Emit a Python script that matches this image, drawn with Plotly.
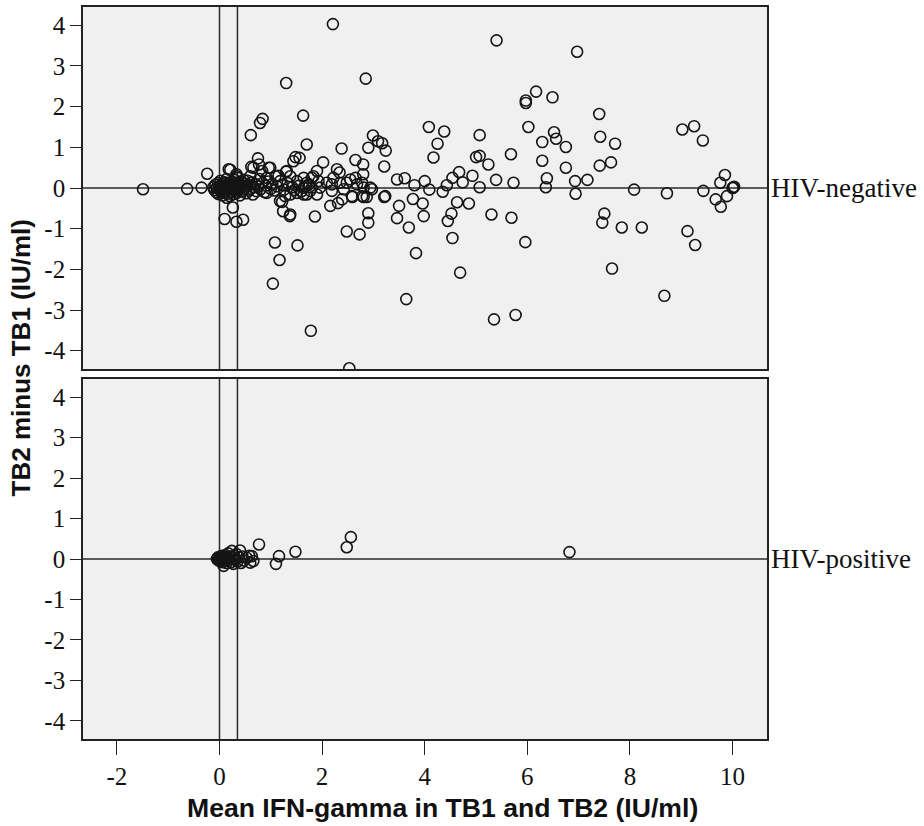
import plotly.graph_objects as go

# ---------------- data ----------------
# HIV-negative: mean IFN-gamma (x) vs TB2 minus TB1 (y)
neg_x = [
    -1.49, -0.63, -0.35, -0.24, 0.21, 0.33, 0.34, 0.18,
    1.30, 0.84, 0.79, 0.61, 0.75, 0.62, 0.96, 0.77, 0.66, 0.83, 0.99,
    1.63, 1.70, 1.30, 1.44, 1.48, 1.56,
    2.21, 5.40, 6.97, 2.85, 6.17, 6.49, 5.97, 5.97, 7.40, 6.02, 4.08, 4.38,
    5.07, 7.42, 6.52, 6.56, 6.29, 6.75, 7.71, 4.25, 2.99, 3.09, 3.17, 3.24,
    2.90, 2.38, 4.17, 5.00, 5.07, 5.68, 6.29, 6.75, 7.41, 7.63, 5.24, 3.21,
    2.65, 2.80, 2.80, 2.02, 2.29, 2.34, 3.46, 3.61, 3.80, 4.00, 4.09, 4.35,
    4.43, 4.54, 4.67, 4.74, 4.93, 5.07, 5.39, 5.73, 6.38, 6.36, 6.93, 7.17,
    6.94, 8.08, 8.23, 7.84, 7.50, 7.46, 7.65, 5.96, 5.69, 5.30, 4.86, 4.63,
    4.52, 4.45, 4.54, 4.69, 5.35, 5.77, 3.64, 3.83, 3.98, 3.96, 3.77, 3.50,
    3.46, 3.69, 2.90, 2.90, 2.73, 2.48, 3.21, 2.59, 2.81, 2.87, 2.16, 2.31,
    1.86, 1.78, 2.53, 1.52, 1.08, 1.17, 1.04, 1.22, 1.24, 1.37, 0.10, 0.33,
    0.46, 0.26, 0.14,
    9.02, 9.25, 9.42, 8.72, 9.43, 9.85, 9.76, 10.01, 9.67, 9.89, 9.77, 9.12,
    9.27, 8.67, 10.00, 10.03,
    1.83, 1.93, 1.70, 1.64, 1.80, 1.96, 2.09, 2.19, 2.22, 2.35, 2.48, 2.55,
    2.65, 2.68, 2.78, 2.81, 2.94, 1.70, 1.90, 2.19, 2.42, 2.58, 2.78, 2.97,
    3.23, 2.39,
    0.60, 0.92, 1.09, 1.18, 1.31, 1.38, 1.51, 1.64, 1.74, 1.80, 1.90,
    0.92, 1.18, 1.28, 1.38, 1.51, 1.64, 1.77, 1.38,
    -0.12, -0.10, -0.08, -0.06, -0.05, -0.03, -0.02, 0.00, 0.01, 0.02, 0.03,
    0.04, 0.05, 0.06, 0.07, 0.08, 0.09, 0.10, 0.11, 0.12, 0.13, 0.14, 0.15,
    0.16, 0.17, 0.18, 0.19, 0.20, 0.21, 0.22, 0.23, 0.24, 0.25, 0.26, 0.27,
    0.28, 0.29, 0.30, 0.31, 0.32, 0.33, 0.34, 0.35, 0.36, 0.37, 0.38, 0.40,
    0.41, 0.42, 0.44, 0.45, 0.47, 0.48, 0.50, 0.52, 0.53, 0.55, 0.57, 0.59,
    0.61, 0.63, 0.65, 0.67, 0.70, 0.72, 0.75, 0.78, 0.80, 0.84, 0.88, 0.90,
    0.95, 1.00, 1.03, 1.07, 1.12, 1.15, 1.22, 1.26, 1.33, 1.42, 1.46, 1.55,
    1.60, 1.68,
]
neg_y = [
    -0.03, -0.02, 0.01, 0.35, 0.45, 0.34, 0.29, 0.46,
    2.58, 1.70, 1.60, 1.30, 0.73, 0.52, 0.50, 0.58, 0.50, 0.42, 0.50,
    1.78, 1.07, 0.40, 0.66, 0.76, 0.74,
    4.03, 3.63, 3.35, 2.69, 2.37, 2.23, 2.15, 2.09, 1.82, 1.50, 1.50, 1.39,
    1.30, 1.26, 1.37, 1.21, 1.13, 1.01, 1.09, 1.09, 1.29, 1.15, 1.10, 0.92,
    0.99, 0.97, 0.75, 0.76, 0.79, 0.83, 0.67, 0.50, 0.55, 0.63, 0.58, 0.53,
    0.69, 0.58, 0.34, 0.63, 0.46, 0.38, 0.21, 0.24, 0.07, 0.17, -0.04, -0.09,
    0.07, 0.25, 0.39, 0.14, 0.30, 0.02, 0.20, 0.13, 0.24, 0.02, 0.17, 0.20,
    -0.14, -0.04, -0.97, -0.97, -0.63, -0.85, -1.98, -1.33, -0.73, -0.65, -0.38, -0.35,
    -0.63, -0.81, -1.23, -2.08, -3.23, -3.12, -2.73, -1.60, -0.69, -0.38, -0.27, -0.44,
    -0.74, -0.97, -0.62, -0.85, -1.14, -1.07, -0.22, -0.22, -0.22, -0.22, -0.44, -0.37,
    -0.70, -3.51, -4.43, -1.41, -1.34, -1.77, -2.35, -0.34, -0.57, -0.69, -0.76, -0.83,
    -0.78, -0.48, -0.24,
    1.44, 1.52, 1.17, -0.13, -0.07, 0.32, 0.13, 0.01, -0.28, -0.20, -0.46, -1.06,
    -1.40, -2.65, 0.00, 0.03,
    0.29, 0.17, 0.13, 0.01, 0.01, 0.01, 0.13, 0.09, 0.25, 0.13, 0.13, 0.21,
    0.25, 0.09, 0.13, 0.01, 0.01, -0.16, -0.16, -0.07, -0.03, -0.20, -0.20, -0.03,
    -0.20, -0.28,
    0.29, 0.25, 0.29, 0.17, 0.42, 0.29, 0.17, 0.25, 0.09, 0.25, 0.42,
    -0.12, -0.32, -0.20, -0.16, -0.12, -0.16, -0.07, -0.65,
    0.02, -0.05, 0.08, -0.10, 0.00, 0.12, -0.15, 0.05, -0.03, 0.18, -0.08,
    0.02, 0.10, -0.18, 0.00, 0.06, -0.12, 0.14, -0.02, 0.04, -0.07, 0.22, 0.00,
    -0.14, 0.08, -0.04, 0.12, -0.20, 0.02, 0.06, -0.09, 0.16, -0.01, 0.10, -0.15,
    0.03, 0.20, -0.06, 0.08, -0.02, 0.13, -0.12, 0.05, 0.25, -0.04, 0.10, -0.18,
    0.02, 0.15, -0.08, 0.06, 0.20, -0.03, 0.11, -0.13, 0.04, 0.18, -0.06, 0.08,
    -0.02, 0.14, -0.16, 0.02, 0.10, -0.08, 0.04, 0.22, -0.03, 0.12, -0.10, 0.06,
    0.16, -0.02, 0.10, -0.06, 0.04, 0.30, 0.08, -0.04, 0.12, 0.02, -0.05, 0.06,
    -0.08, 0.04,
]

# HIV-positive
pos_x = [
    0.77, 1.16, 1.10, 1.48, 2.56, 2.48, 6.82,
    -0.05, -0.03, -0.02, 0.00, 0.01, 0.02, 0.03, 0.04, 0.05, 0.06, 0.07, 0.08,
    0.09, 0.10, 0.11, 0.12, 0.13, 0.14, 0.15, 0.17, 0.18, 0.20, 0.22, 0.24,
    0.25, 0.27, 0.29, 0.31, 0.33, 0.35, 0.38, 0.40, 0.42, 0.45, 0.48, 0.53,
    0.58, 0.60, 0.63, 0.66,
]
pos_y = [
    0.36, 0.07, -0.12, 0.18, 0.54, 0.29, 0.17,
    0.00, 0.04, -0.03, 0.02, -0.05, 0.06, 0.00, -0.02, 0.08, -0.08, 0.03, -0.17,
    0.01, 0.05, -0.04, 0.10, 0.00, -0.10, 0.04, 0.14, -0.02, 0.06, -0.08, 0.20,
    0.02, -0.12, 0.08, 0.00, 0.12, -0.06, 0.04, 0.21, -0.10, 0.06, -0.04, 0.03,
    0.08, -0.09, 0.07, -0.05,
]

x_ticks = [-2, 0, 2, 4, 6, 8, 10]
x_ticktext = ["-2", "0", "2", "4", "6", "8", "10"]
y_ticks = [-4, -3, -2, -1, 0, 1, 2, 3, 4]
y_ticktext = ["-4", "-3", "-2", "-1", "0", "1", "2", "3", "4"]
cutoffs = [0, 0.35]
panel_labels = ["HIV-negative", "HIV-positive"]

# ---------------- figure ----------------
fig = go.Figure()
marker = dict(symbol="circle-open", size=11, color="#151515", line=dict(width=1.6, color="#151515"))
fig.add_trace(go.Scatter(x=neg_x, y=neg_y, mode="markers", marker=marker,
                         xaxis="x", yaxis="y", showlegend=False))
fig.add_trace(go.Scatter(x=pos_x, y=pos_y, mode="markers", marker=marker,
                         xaxis="x2", yaxis="y2", showlegend=False))

XR = [-2.66, 10.67]
YR = [-4.45, 4.45]
tickfont = dict(family="Liberation Serif", size=25, color="#111")
common_y = dict(range=YR, tickvals=y_ticks, ticktext=y_ticktext, ticks="outside", ticklen=11,
                tickwidth=1.4, tickcolor="#222", showgrid=False, zeroline=False, showline=True,
                linecolor="#222", linewidth=1.6, mirror=True, tickfont=tickfont,
                fixedrange=True)
fig.update_layout(
    width=924, height=826,
    margin=dict(l=83, r=157, t=5, b=87),
    paper_bgcolor="white", plot_bgcolor="#f0f0f0",
    xaxis=dict(domain=[0, 1], anchor="y", range=XR, showticklabels=False, ticks="",
               showgrid=False, zeroline=False, showline=True, linecolor="#222",
               linewidth=1.6, mirror=True, matches="x2"),
    xaxis2=dict(domain=[0, 1], anchor="y2", range=XR, tickvals=x_ticks, ticktext=x_ticktext,
                ticks="outside", ticklen=14, tickwidth=1.4, tickcolor="#222", showgrid=False,
                zeroline=False, showline=True, linecolor="#222", linewidth=1.6, mirror=True,
                tickfont=tickfont),
    yaxis=dict(domain=[0.5054, 1], anchor="x", **common_y),
    yaxis2=dict(domain=[0, 0.4918], anchor="x2", **common_y),
)

# reference lines
for xa, ya in [("x", "y"), ("x2", "y2")]:
    fig.add_shape(type="line", xref=f"{xa} domain", yref=ya, x0=0, x1=1, y0=0, y1=0,
                  line=dict(color="#2a2a2a", width=1.5), layer="below")
    for c in cutoffs:
        fig.add_shape(type="line", xref=xa, yref=f"{ya} domain", x0=c, x1=c, y0=0, y1=1,
                      line=dict(color="#2a2a2a", width=1.5), layer="below")

for lab, ya in zip(panel_labels, ["y", "y2"]):
    fig.add_annotation(text=lab, xref="paper", x=1, xanchor="left", xshift=2,
                       yref=ya, y=0, yanchor="middle", showarrow=False,
                       font=dict(family="Liberation Serif", size=27, color="#111"))

titlefont = dict(family="Liberation Sans", size=26.6, color="#111")
fig.add_annotation(text="<b>Mean IFN-gamma in TB1 and TB2 (IU/ml)</b>", xref="paper", yref="paper",
                   x=0.526, y=-0.094, xanchor="center", yanchor="middle", showarrow=False,
                   font=titlefont)
fig.add_annotation(text="<b>TB2 minus TB1 (IU/ml)</b>", xref="paper", yref="paper",
                   x=-0.0906, y=0.52, xanchor="center", yanchor="middle", showarrow=False,
                   textangle=-90, font=dict(family="Liberation Sans", size=26, color="#111"))

fig.write_html("out.html")
